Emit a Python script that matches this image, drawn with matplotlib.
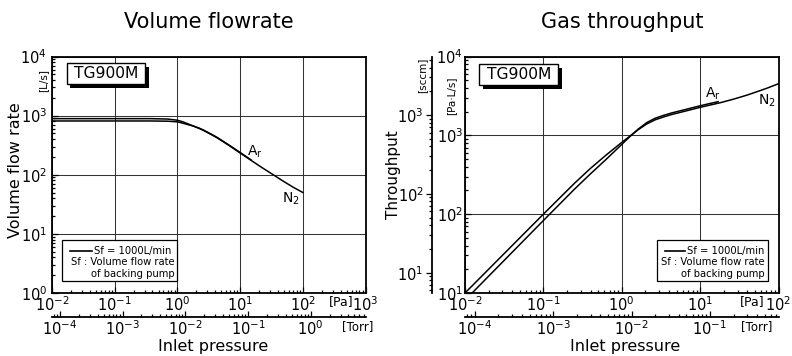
import numpy as np
import matplotlib
matplotlib.use("Agg")
import matplotlib.pyplot as plt
from matplotlib.patches import Rectangle
from matplotlib.lines import Line2D
from matplotlib.ticker import LogLocator, NullFormatter, FixedLocator

plt.rcParams['font.family'] = ['DejaVu Sans']
plt.rcParams['mathtext.default'] = 'regular'

# ---------------- data ----------------
# Volume flow rate [L/s] vs inlet pressure [Pa]
vf_n2_p = [0.01, 0.37, 0.7, 1.0, 1.24, 1.5, 1.79, 2.2, 2.59, 3.3, 4.24, 5.4,
           6.9, 8.3, 10, 14.4, 19, 23.4, 34, 49, 71, 100]
vf_n2_s = [889, 889, 875, 836, 782, 721, 667, 610, 564, 492, 425, 361,
           305, 267, 234, 180, 148, 128, 99.5, 77.6, 61.1, 50.1]
vf_ar_p = [0.01, 0.37, 0.7, 1.0, 1.24, 1.5, 1.79, 2.2, 2.59, 3.3, 4.24, 5.4,
           6.9, 8.3, 10, 12.5, 15]
vf_ar_s = [812, 812, 805, 785, 742, 700, 668, 618, 571, 500, 432, 367,
           310, 272, 238, 203, 178]

# Gas throughput [Pa.L/s] vs inlet pressure [Pa]
gt_n2_p = [0.01, 0.1, 0.251, 0.398, 0.631, 1.0, 1.28, 1.63, 2.09, 2.67, 3.41,
           4.37, 5.57, 7.46, 10, 13.5, 18.1, 26.9, 39.6, 53.7, 71.3, 100]
gt_n2_q = [10, 100, 248, 380, 562, 813, 982, 1183, 1396, 1574, 1710,
           1841, 1954, 2104, 2265, 2427, 2594, 2884, 3236, 3589, 3963, 4519]
gt_ar_p = [0.01, 0.1, 0.251, 0.398, 0.631, 1.0, 1.28, 1.63, 2.09, 2.67, 3.41,
           4.37, 5.57, 7.46, 10, 13.5, 17]
gt_ar_q = [8.1, 83, 209, 324, 495, 767, 971, 1205, 1452, 1648, 1791,
           1928, 2046, 2203, 2371, 2541, 2673]

# Tick values shown on the secondary scales
torr_ticks_left = [1e-4, 1e-3, 1e-2, 1e-1, 1e0]
torr_ticks_right = [1e-4, 1e-3, 1e-2, 1e-1]
sccm_ticks = [1e1, 1e2, 1e3]

PA_PER_TORR = 133.322
PALS_PER_SCCM = 1.81

W, H = 792, 356
fig = plt.figure(figsize=(W / 100, H / 100), dpi=100)


def fx(px):
    return px / W


def fy(py):
    return 1 - py / H


ax1 = fig.add_axes([fx(52), fy(293), (365.5 - 52) / W, (293 - 56.5) / H])
ax2 = fig.add_axes([fx(465), fy(293), (778.5 - 465) / W, (293 - 56.5) / H])

LW = 1.1
ax1.plot(vf_n2_p, vf_n2_s, color='black', lw=LW, solid_joinstyle='round')
ax1.plot(vf_ar_p, vf_ar_s, color='black', lw=LW, solid_joinstyle='round')
ax2.plot(gt_n2_p, gt_n2_q, color='black', lw=LW, solid_joinstyle='round')
ax2.plot(gt_ar_p, gt_ar_q, color='black', lw=LW, solid_joinstyle='round')

ax1.set_xscale('log'); ax1.set_yscale('log')
ax2.set_xscale('log'); ax2.set_yscale('log')
ax1.set_xlim(1e-2, 1e3); ax1.set_ylim(1, 1e4)
ax2.set_xlim(1e-2, 1e2); ax2.set_ylim(10, 1e4)

TFS = 10.5
for ax in (ax1, ax2):
    ax.set_axisbelow(True)
    ax.grid(True, which='major', color='#333333', lw=0.75)
    for sp in ax.spines.values():
        sp.set_linewidth(1.3)
    ax.tick_params(which='both', direction='in', width=0.9, labelsize=TFS)
    ax.tick_params(which='major', length=4.5)
    ax.tick_params(which='minor', length=2.2)
    ax.tick_params(axis='x', pad=1.5)
    for axis in (ax.xaxis, ax.yaxis):
        axis.set_major_locator(LogLocator(base=10, numticks=20))
        axis.set_minor_locator(LogLocator(base=10, subs=np.arange(2, 10), numticks=20))
        axis.set_minor_formatter(NullFormatter())
ax1.tick_params(axis='y', pad=3.5)
ax2.tick_params(axis='y', pad=1.5)


def pa2torr(p):
    return np.asarray(p) / PA_PER_TORR


def torr2pa(t):
    return np.asarray(t) * PA_PER_TORR


for ax, tt in ((ax1, torr_ticks_left), (ax2, torr_ticks_right)):
    sec = ax.secondary_xaxis(-(317.3 - 293) / 236.5, functions=(pa2torr, torr2pa))
    sec.spines['bottom'].set_linewidth(1.3)
    sec.xaxis.set_major_locator(FixedLocator(tt))
    sec.xaxis.set_minor_locator(LogLocator(base=10, subs=np.arange(2, 10), numticks=20))
    sec.xaxis.set_minor_formatter(NullFormatter())
    sec.tick_params(which='both', direction='in', width=0.9, labelsize=TFS, pad=1.5)
    sec.tick_params(which='major', length=4.5)
    sec.tick_params(which='minor', length=2.2)


def q2sccm(q):
    return np.asarray(q) / PALS_PER_SCCM


def sccm2q(s):
    return np.asarray(s) * PALS_PER_SCCM


secy = ax2.secondary_yaxis(-(465 - 432) / 313.5, functions=(q2sccm, sccm2q))
secy.spines['left'].set_linewidth(1.3)
secy.yaxis.set_major_locator(FixedLocator(sccm_ticks))
secy.yaxis.set_minor_locator(LogLocator(base=10, subs=np.arange(2, 10), numticks=20))
secy.yaxis.set_minor_formatter(NullFormatter())
secy.tick_params(which='both', direction='out', width=0.9, labelsize=TFS, pad=1.5)
secy.tick_params(which='major', length=4.5)
secy.tick_params(which='minor', length=2.2)

# ---------------- texts ----------------
fig.text(fx(208.5), fy(22), 'Volume flowrate', ha='center', va='center', fontsize=15)
fig.text(fx(622.5), fy(22), 'Gas throughput', ha='center', va='center', fontsize=15)
fig.text(fx(213), fy(346), 'Inlet pressure', ha='center', va='center', fontsize=11.5)
fig.text(fx(625), fy(346), 'Inlet pressure', ha='center', va='center', fontsize=11.5)
fig.text(fx(15.5), fy(170), 'Volume flow rate', ha='center', va='center',
         rotation=90, fontsize=11.5)
fig.text(fx(393.5), fy(175), 'Throughput', ha='center', va='center',
         rotation=90, fontsize=11)
fig.text(fx(43), fy(80), '[L/s]', ha='center', va='center', rotation=90, fontsize=7.5)
fig.text(fx(422), fy(75), '[sccm]', ha='center', va='center', rotation=90, fontsize=7.5)
fig.text(fx(451), fy(96), '[Pa·L/s]', ha='center', va='center', rotation=90, fontsize=7.5)
fig.text(fx(341), fy(302), '[Pa]', ha='center', va='center', fontsize=9)
fig.text(fx(752), fy(302), '[Pa]', ha='center', va='center', fontsize=9)
fig.text(fx(358), fy(327), '[Torr]', ha='center', va='center', fontsize=8.5)
fig.text(fx(757), fy(327), '[Torr]', ha='center', va='center', fontsize=8.5)

# gas labels
fig.text(fx(255), fy(152), 'A$_r$', ha='center', va='center', fontsize=10)
fig.text(fx(291), fy(199), 'N$_2$', ha='center', va='center', fontsize=10)
fig.text(fx(713), fy(94), 'A$_r$', ha='center', va='center', fontsize=10)
fig.text(fx(767), fy(101), 'N$_2$', ha='center', va='center', fontsize=10)


def rect(x0, y0, x1, y1, **kw):
    r = Rectangle((fx(x0), fy(y1)), (x1 - x0) / W, (y1 - y0) / H,
                  transform=fig.transFigure, **kw)
    fig.add_artist(r)
    return r


# model boxes with shadow
for (x0, y0, x1, y1) in [(66.7, 63.5, 145, 83.5), (479.3, 63.5, 558.3, 84.5)]:
    rect(x0 + 3.5, y0 + 4.0, x1 + 3.5, y1 + 4.0, facecolor='black', edgecolor='black',
         lw=0, zorder=5)
    rect(x0, y0, x1, y1, facecolor='white', edgecolor='black', lw=1.0, zorder=6)
    fig.text(fx((x0 + x1) / 2), fy((y0 + y1) / 2 + 0.5), 'TG900M', ha='center',
             va='center', fontsize=11.2, zorder=7)

# legend boxes
LFS = 7.2
for (bx0, bx1, lx0, lx1, tx, rx) in [(61.7, 176.7, 70, 92, 93.5, 174.5),
                                     (657, 768, 665, 685, 687, 765)]:
    rect(bx0, 240, bx1, 281, facecolor='white', edgecolor='black', lw=0.9, zorder=5)
    fig.add_artist(Line2D([fx(lx0), fx(lx1)], [fy(250.7), fy(250.7)],
                          transform=fig.transFigure, color='black', lw=1.2, zorder=6))
    fig.text(fx(tx), fy(250.7), 'Sf = 1000L/min', ha='left', va='center',
             fontsize=LFS, zorder=7)
    fig.text(fx(rx), fy(262.2), 'Sf : Volume flow rate', ha='right', va='center',
             fontsize=LFS, zorder=7)
    fig.text(fx(rx), fy(274), 'of backing pump', ha='right', va='center',
             fontsize=LFS, zorder=7)

fig.savefig('out.png', dpi=100)
